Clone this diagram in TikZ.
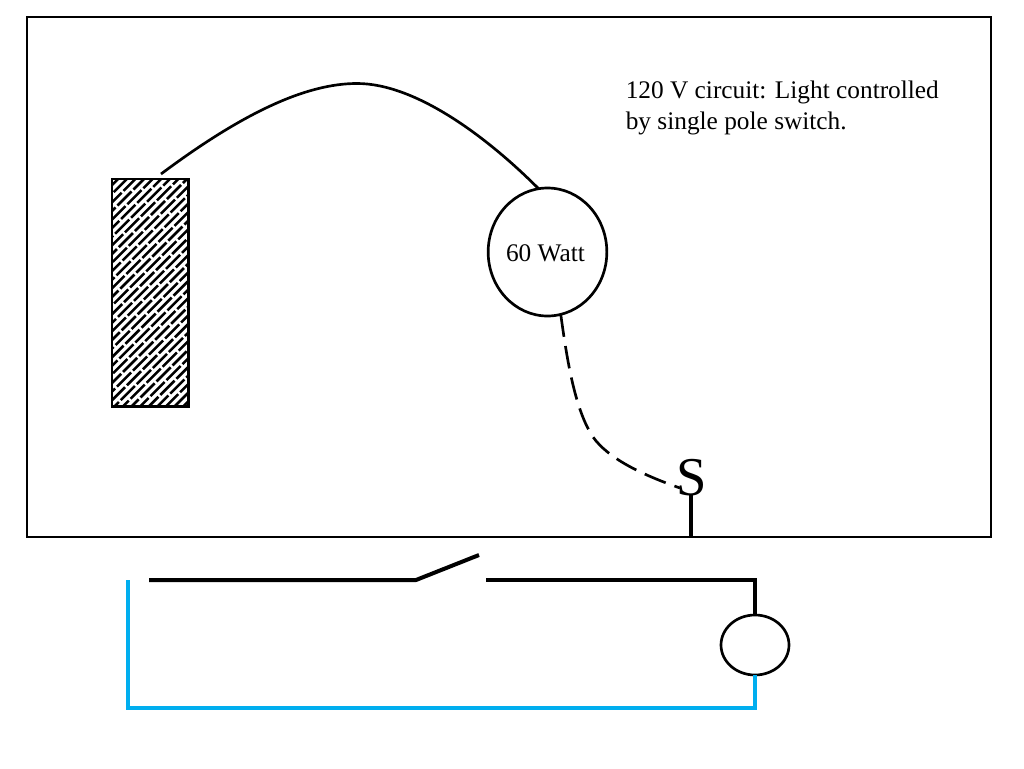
\documentclass[tikz,border=0pt]{standalone}
\usepackage{fontspec}
\setmainfont{Liberation Serif}
\usetikzlibrary{shapes.geometric}
\definecolor{wireblue}{RGB}{0,174,239}
\tikzset{
  px/.style={x=0.75pt,y=-0.75pt},
  thinwire/.style={draw=black,line width=2pt},
  heavywire/.style={draw=black,line width=3pt},
  bluewire/.style={draw=wireblue,line width=3pt,line join=miter},
  label/.style={font=\fontsize{19}{23.25}\selectfont,inner sep=0pt,align=left},
  lamp/.style={draw=black,line width=2pt,ellipse,inner sep=0pt,outer sep=0pt},
  boxshape/.style={draw=black,line width=2pt,inner sep=0pt,outer sep=0pt,anchor=north west},
}
\begin{document}
\begin{tikzpicture}[px]
\useasboundingbox (0,0) rectangle (1024,768);
\node[boxshape,minimum width=723pt,minimum height=390pt] (room) at (27,17) {};
% panel
\begin{scope}
\clip (112,179) rectangle (189.5,406.5);
\foreach \n in {0,...,40}{
  \pgfmathsetmacro{\ph}{mod(\n*6.5,17)}
  \draw[black,line width=1.9pt,dash pattern=on 15pt off 2pt,dash phase=\ph pt] (100,\n*8.6+180) -- ++(120,-120);
}
\end{scope}
\node[boxshape,minimum width=57.5pt,minimum height=170.5pt] (panel) at (112,179) {};
% lamp
\node[lamp,minimum width=89pt,minimum height=96pt] (lamp) at (547.5,252) {};
\node[font=\fontsize{19}{20}\selectfont,inner sep=0pt] (lamplabel) at (545.5,253) {60 Watt};
\coordinate (panelwire) at (161,174);
\draw[thinwire] (panelwire) .. controls (240,115) and (305,83) .. (358,83.5) .. controls (415,84) and (485,135) .. (lamp.98);
% text
\node[label,anchor=north west] (note) at (625.5,81) {120 V circuit: Light controlled\\by single pole switch.};
% switch
\coordinate (swbase) at (691,537);
\coordinate (swtop) at (691,495);
\draw[heavywire] (swtop) -- (swbase);
\node[font=\fontsize{41}{44}\selectfont,inner sep=0pt] (swS) at (691.5,477.5) {S};
\draw[thinwire,dash pattern=on 17pt off 7pt] (lamp.-78) .. controls (567,360) and (575,410) .. (593,437) .. controls (608,458) and (640,474) .. (680,488);
% schematic
\coordinate (a) at (149,580);
\coordinate (b) at (416,580);
\coordinate (c) at (479,555);
\coordinate (d) at (486,580);
\coordinate (e) at (755,580);
\coordinate (f) at (128,580);
\coordinate (g) at (128,708);
\coordinate (h) at (755,708);
\node[lamp,minimum width=51pt,minimum height=45pt] (bulb) at (755,645) {};
\draw[heavywire,line join=bevel] (a) -- (b) -- (c);
\draw[heavywire] (d) -- (e) -- (bulb.north);
\draw[bluewire] (f) -- (g) -- (h) -- (bulb.south);
\end{tikzpicture}
\end{document}
